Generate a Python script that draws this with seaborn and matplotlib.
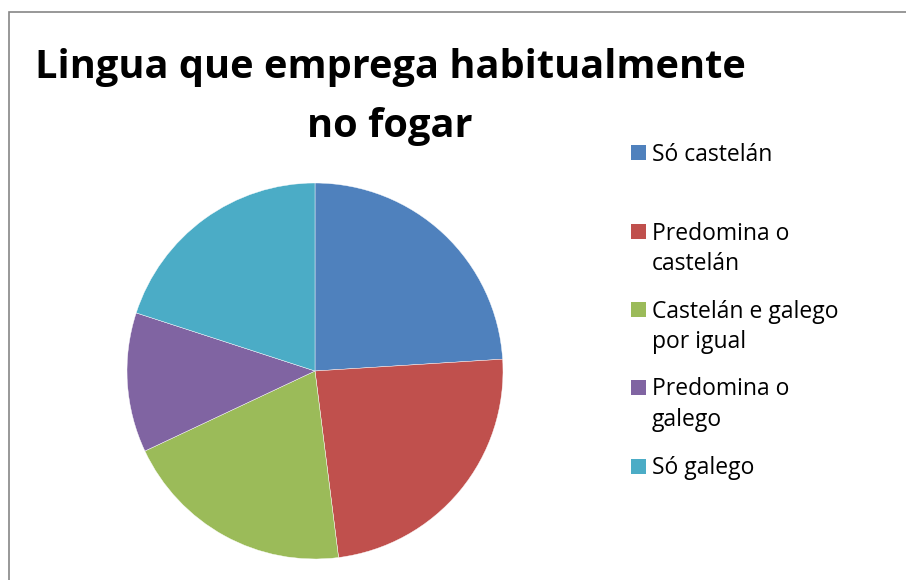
import matplotlib
matplotlib.use("Agg")
import matplotlib.pyplot as plt
import seaborn as sns
from matplotlib.patches import Rectangle

# data (share of respondents, %)
categorias = ["Só castelán", "Predomina o\ncastelán", "Castelán e galego\npor igual",
              "Predomina o\ngalego", "Só galego"]
valores = [24, 24, 20, 12, 20]
cores = ["#4F81BD", "#C0504D", "#9BBB59", "#8064A2", "#4BACC6"]
titulo = ["Lingua que emprega habitualmente", "no fogar"]

sns.set_theme(style="white")
plt.rcParams["font.family"] = ["Open Sans", "DejaVu Sans"]

W, H = 906, 580
fig = plt.figure(figsize=(W / 100, H / 100), dpi=100)
fig.patch.set_facecolor("white")

def fx(px):
    return px / W

def fy(py):
    return 1 - py / H

# outer chart frame (clipped at right and bottom like the reference)
fig.patches.append(Rectangle((fx(8.5), fy(600)), fx(920), (600 - 12) / H,
                             transform=fig.transFigure, fill=False,
                             edgecolor="#868686", linewidth=1.2, clip_on=False))

# pie, centre (315, 371) px, radius 188 px
cx, cy, r = 315, 371, 188
ax = fig.add_axes([fx(cx - r), fy(cy + r), 2 * r / W, 2 * r / H])
ax.pie(valores, colors=cores, startangle=90, counterclock=False,
       wedgeprops=dict(edgecolor="white", linewidth=0.3))
ax.set_xlim(-1, 1)
ax.set_ylim(-1, 1)
ax.set_aspect("equal")
ax.axis("off")

# title
for i, linha in enumerate(titulo):
    fig.text(fx(390), fy(78 + 59 * i), linha, ha="center", va="baseline",
             fontsize=28.6, fontweight="bold", color="black")

# legend drawn by hand so the marker sits on the first text line
sq = 15
ys = [152.5, 231.5, 309.5, 387, 466.5]
for cat, cor, y in zip(categorias, cores, ys):
    fig.patches.append(Rectangle((fx(631), fy(y + sq / 2)), sq / W, sq / H,
                                 transform=fig.transFigure, facecolor=cor,
                                 edgecolor="none"))
    for j, parte in enumerate(cat.split("\n")):
        fig.text(fx(652), fy(y + 8 + 31 * j), parte, ha="left", va="baseline",
                 fontsize=16.5, color="black")

fig.savefig("out.png", dpi=100, facecolor="white")
